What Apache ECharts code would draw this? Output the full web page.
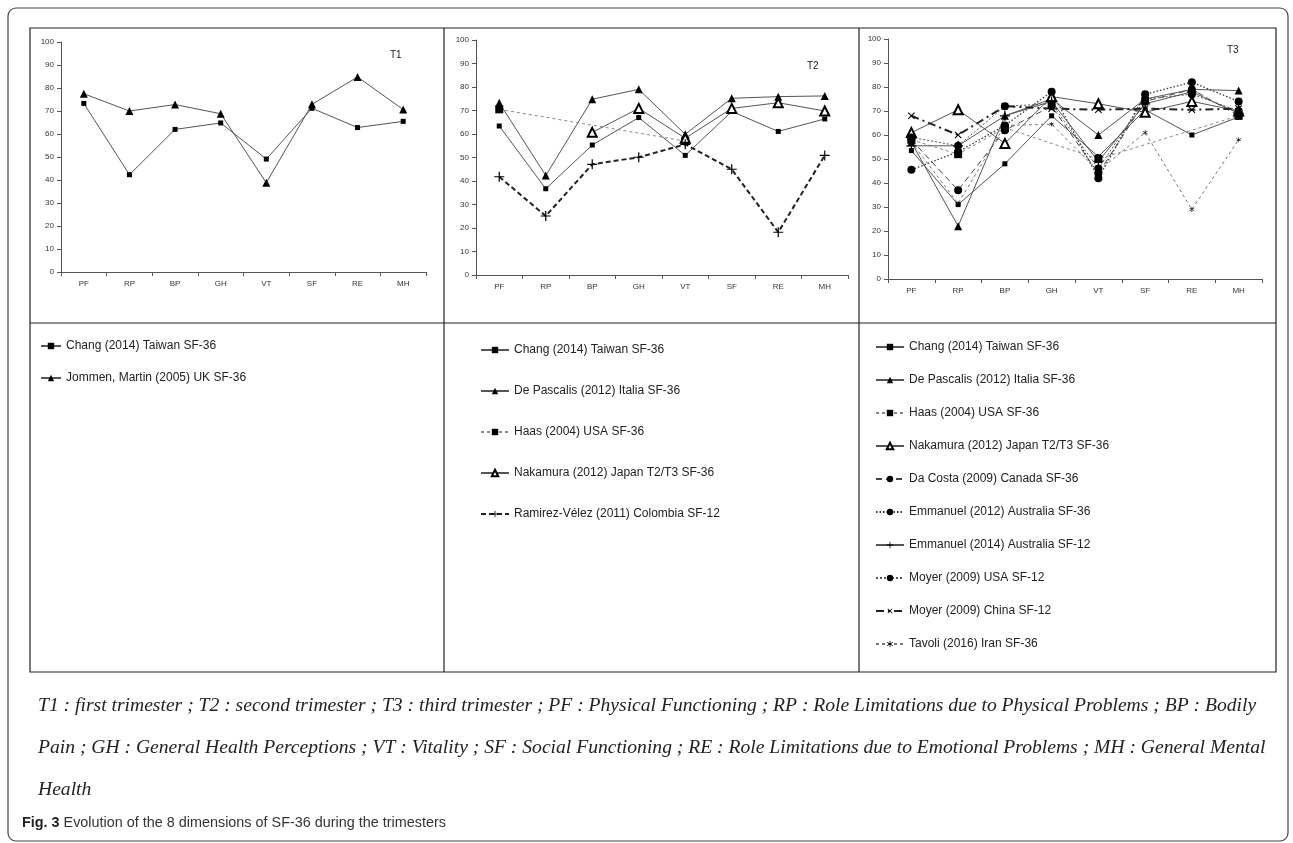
<!DOCTYPE html>
<html>
<head>
<meta charset="utf-8">
<script src="https://cdn.jsdelivr.net/npm/echarts@6/dist/echarts.min.js"></script>
<style>
html,body{margin:0;padding:0;background:#fff;}
#c{width:1293px;height:843px;}
</style>
</head>
<body>
<div id="c"></div>
<script>
const categories = ['PF','RP','BP','GH','VT','SF','RE','MH'];
const yTicks = [0,10,20,30,40,50,60,70,80,90,100];

// T1
const t1Chang   = [73.3, 42.3, 62, 64.8, 49.1, 71.2, 62.8, 65.5];
const t1Jommen  = [77.5, 70, 72.8, 68.8, 38.8, 72.9, 84.8, 70.6];

// T2
const t2Chang      = [63.4, 36.7, 55.3, 67, 50.9, 69.6, 61.1, 66.4];
const t2DePascalis = [73.3, 42.3, 74.8, 79, 59.9, 75.2, 75.9, 76.2];
const t2Haas       = [70.5, null, null, null, 57, null, null, null];
const t2Nakamura   = [null, null, 60.7, 70.9, 58.2, 70.9, 73.3, 69.8];
const t2Ramirez    = [41.8, 25.1, 47.1, 50.1, 55.6, 45, 18.2, 50.9];

// T3
const t3Chang      = [53.5, 31, 48, 68, 51, 70.5, 60, 67.5];
const t3DePascalis = [57, 22, 68, 75, 60, 75, 79, 78.5];
const t3Haas       = [58, 52, 63, null, 50, null, null, 68];
const t3Nakamura   = [61, 70.5, 56.5, 76, 73, 69.5, 74, 70];
const t3DaCosta    = [58, 37, 62, 72, 44, 74, 79, 68];
const t3Emm2012    = [45.5, 53, 64, 78, 42, 77, 82, 74];
const t3Emm2014    = [55.5, 55.5, 68, 74, 49, 73, 78, 69];
const t3MoyerUSA   = [59, 55.5, 72, 73, 46, 75, 77, 70];
const t3MoyerChina = [68, 60, 72, 71, 70.5, 71, 70.5, 71];
const t3Tavoli     = [57, 31.5, 64, 64.5, 45, 61, 29, 58];

const N = {
  chang: 'Chang (2014) Taiwan SF-36',
  jommen: 'Jommen, Martin (2005) UK SF-36',
  depas: 'De Pascalis (2012) Italia SF-36',
  haas: 'Haas (2004) USA SF-36',
  naka: 'Nakamura (2012) Japan T2/T3 SF-36',
  ramirez: 'Ramirez-Vélez (2011) Colombia SF-12',
  dacosta: 'Da Costa (2009) Canada SF-36',
  emm12: 'Emmanuel (2012) Australia SF-36',
  emm14: 'Emmanuel (2014) Australia SF-12',
  moyerUSA: 'Moyer (2009) USA SF-12',
  moyerChina: 'Moyer (2009) China SF-12',
  tavoli: 'Tavoli (2016) Iran SF-36'
};

const PLUS = 'path://M4.4,0 H5.6 V4.4 H10 V5.6 H5.6 V10 H4.4 V5.6 H0 V4.4 H4.4 Z';
const STAR = 'path://M4.5,0 H5.5 V3.8 L8.8,1.9 L9.3,2.8 L6,4.9 V5.1 L9.3,7.2 L8.8,8.1 L5.5,6.2 V10 H4.5 V6.2 L1.2,8.1 L0.7,7.2 L4,5.1 V4.9 L0.7,2.8 L1.2,1.9 L4.5,3.8 Z';

const styles = {
  chang:      {symbol:'rect', symbolSize:5, line:{color:'#555', width:1, type:'solid'}},
  jommen:     {symbol:'triangle', symbolSize:8, line:{color:'#555', width:1, type:'solid'}},
  depas:      {symbol:'triangle', symbolSize:8, line:{color:'#555', width:1, type:'solid'}},
  haas:       {symbol:'rect', symbolSize:8, line:{color:'#888', width:1, type:[3,3]}},
  naka:       {symbol:'emptyTriangle', symbolSize:9, line:{color:'#555', width:1, type:'solid'}},
  ramirez:    {symbol:PLUS, symbolSize:10, line:{color:'#222', width:2, type:[5,3]}},
  dacosta:    {symbol:'circle', symbolSize:8, line:{color:'#444', width:1, type:[6,4]}},
  emm12:      {symbol:'circle', symbolSize:8, line:{color:'#333', width:1.3, type:[1.5,2]}},
  emm14:      {symbol:PLUS, symbolSize:10, line:{color:'#555', width:1, type:'solid'}},
  moyerUSA:   {symbol:'circle', symbolSize:8, line:{color:'#555', width:1, type:[2,2]}},
  moyerChina: {symbol:PLUS, symbolSize:9, rotate:45, line:{color:'#222', width:2, type:[8,4,2,4]}},
  tavoli:     {symbol:STAR, symbolSize:5, line:{color:'#777', width:1, type:[3,3]}}
};

function mk(key, data, idx) {
  const s = styles[key];
  return {
    type:'line', name:N[key], data:data, xAxisIndex:idx, yAxisIndex:idx,
    symbol:s.symbol, symbolSize:s.symbolSize, symbolRotate:s.rotate || 0,
    connectNulls:true, animation:false, silent:true,
    lineStyle:{color:s.line.color, width:s.line.width, type:s.line.type},
    itemStyle:{color:'#000', borderColor:'#000', borderWidth: s.symbol==='emptyTriangle'?1:0},
    emphasis:{disabled:true}
  };
}

const grids = [
  {left:61, top:42, width:365, height:230},
  {left:476, top:40, width:372, height:235},
  {left:888, top:39, width:374, height:240}
];

function xAx(i){
  return {type:'category', gridIndex:i, data:categories, boundaryGap:true,
    axisLine:{lineStyle:{color:'#555', width:1}},
    axisTick:{show:true, length:4, lineStyle:{color:'#555'}},
    axisLabel:{fontSize:8, color:'#333', margin:8, fontFamily:'Liberation Sans'},
    splitLine:{show:false}};
}
function yAx(i){
  return {type:'value', gridIndex:i, min:0, max:100, interval:10,
    axisLine:{show:true, lineStyle:{color:'#555', width:1}},
    axisTick:{show:true, length:4, lineStyle:{color:'#555'}},
    axisLabel:{fontSize:8, color:'#333', margin:7, fontFamily:'Liberation Sans',
      formatter:function(v){return yTicks.indexOf(v) >= 0 ? String(v) : '';}},
    splitLine:{show:false}};
}

function legend(left, top, width, gap, names){
  return {orient:'vertical', left:left, top:top, padding:0, itemWidth:width, itemHeight:8, itemGap:gap,
    selectedMode:false, data:names,
    textStyle:{fontSize:12, color:'#222', fontFamily:'Liberation Sans'}};
}

const series = [
  mk('chang', t1Chang, 0), mk('jommen', t1Jommen, 0),
  mk('chang', t2Chang, 1), mk('depas', t2DePascalis, 1), mk('haas', t2Haas, 1),
  mk('naka', t2Nakamura, 1), mk('ramirez', t2Ramirez, 1),
  mk('chang', t3Chang, 2), mk('depas', t3DePascalis, 2), mk('haas', t3Haas, 2),
  mk('naka', t3Nakamura, 2), mk('dacosta', t3DaCosta, 2), mk('emm12', t3Emm2012, 2),
  mk('emm14', t3Emm2014, 2), mk('moyerUSA', t3MoyerUSA, 2), mk('moyerChina', t3MoyerChina, 2),
  mk('tavoli', t3Tavoli, 2)
];

const lineStyle = {stroke:'#222', lineWidth:1.2};
const capFont = {fontStyle:'italic', fontSize:19.6, fontFamily:'Liberation Serif', fill:'#222'};

const option = {
  backgroundColor:'#fff',
  animation:false,
  grid: grids,
  xAxis: [xAx(0), xAx(1), xAx(2)],
  yAxis: [yAx(0), yAx(1), yAx(2)],
  legend: [
    legend(40, 340, 20, 20, [N.chang, N.jommen]),
    legend(480, 344, 28, 29, [N.chang, N.depas, N.haas, N.naka, N.ramirez]),
    legend(875, 341, 28, 21, [N.chang, N.depas, N.haas, N.naka, N.dacosta, N.emm12, N.emm14, N.moyerUSA, N.moyerChina, N.tavoli])
  ],
  series: series,
  graphic: [
    {type:'rect', shape:{x:8, y:8, width:1280, height:833, r:8}, style:{fill:'none', stroke:'#444', lineWidth:1.2}, silent:true},
    {type:'rect', shape:{x:30, y:28, width:1246, height:644}, style:{fill:'none', stroke:'#222', lineWidth:1.2}, silent:true},
    {type:'line', shape:{x1:30, y1:323, x2:1276, y2:323}, style:lineStyle, silent:true},
    {type:'line', shape:{x1:444, y1:28, x2:444, y2:672}, style:lineStyle, silent:true},
    {type:'line', shape:{x1:859, y1:28, x2:859, y2:672}, style:lineStyle, silent:true},
    {type:'text', x:390, y:50, style:{text:'T1', fontSize:10, fontFamily:'Liberation Sans', fill:'#222'}, silent:true},
    {type:'text', x:807, y:61, style:{text:'T2', fontSize:10, fontFamily:'Liberation Sans', fill:'#222'}, silent:true},
    {type:'text', x:1227, y:45, style:{text:'T3', fontSize:10, fontFamily:'Liberation Sans', fill:'#222'}, silent:true},
    {type:'text', x:38, y:706, style:Object.assign({text:'T1 : first trimester ; T2 : second trimester ; T3 : third trimester ; PF : Physical Functioning ; RP : Role Limitations due to Physical Problems ; BP : Bodily', verticalAlign:'middle'}, capFont), silent:true},
    {type:'text', x:38, y:748, style:Object.assign({text:'Pain ; GH : General Health Perceptions ; VT : Vitality ; SF : Social Functioning ; RE : Role Limitations due to Emotional Problems ; MH : General Mental', verticalAlign:'middle'}, capFont), silent:true},
    {type:'text', x:38, y:790, style:Object.assign({text:'Health', verticalAlign:'middle'}, capFont), silent:true},
    {type:'text', x:22, y:823, style:{text:'{b|Fig. 3} Evolution of the 8 dimensions of SF-36 during the trimesters', verticalAlign:'middle', fontSize:14.4, fontFamily:'Liberation Sans', fill:'#333',
      rich:{b:{fontWeight:'bold', fontSize:14.4, fontFamily:'Liberation Sans', fill:'#222'}}}, silent:true}
  ]
};

const chart = echarts.init(document.getElementById('c'), null, {renderer:'canvas'});
chart.setOption(option);
</script>
</body>
</html>
